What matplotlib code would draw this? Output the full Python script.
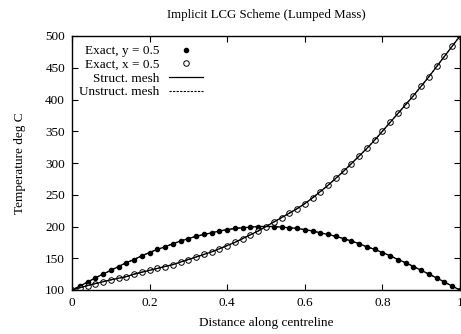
import numpy as np
import matplotlib
matplotlib.use("Agg")
import matplotlib.pyplot as plt

plt.rcParams['font.family'] = ['Liberation Serif', 'DejaVu Serif']
plt.rcParams['font.size'] = 9.5

# distance along centreline (exact solution sampled every 0.02)
dist = [round(0.02 * i, 2) for i in range(51)]

# exact, y = 0.5 (symmetric hump)
half_y = [100, 106, 112.5, 119, 125, 131, 137, 143, 148, 154,
          159, 164, 168, 173, 177, 181, 184.5, 187.5, 190, 193,
          195, 197, 198, 199, 200, 200]
exact_y = half_y + half_y[-2::-1]

# exact, x = 0.5
exact_x = [100, 103.5, 107, 110, 113, 116, 118.5, 121, 125, 128,
           131, 134, 137, 140, 144, 148, 152, 156, 160, 165,
           170, 175, 181, 187, 193, 200, 207, 214, 221, 228,
           236, 245, 255, 265, 276, 287, 299, 311, 323, 336,
           350, 364, 378, 392, 406, 421, 436, 452, 468, 484, 500]

# numerical results (indistinguishable from exact at this scale)
struct_y = exact_y
struct_x = exact_x
unstruct_y = exact_y
unstruct_x = exact_x

fig = plt.figure(figsize=(4.61, 3.34), dpi=100)
ax = fig.add_axes([72/461, 1 - 290/334, 388/461, 254/334])

ax.plot(dist, exact_y, 'o', color='black', ms=3.0, ls='none', zorder=2,
        label='Exact, y = 0.5')
ax.plot(dist, exact_x, 'o', mfc='white', mec='black', mew=0.7, ms=4.0, ls='none',
        zorder=2, label='Exact, x = 0.5')
ax.plot(dist, struct_y, '-', color='black', lw=0.9, zorder=3, label='Struct. mesh')
ax.plot(dist, struct_x, '-', color='black', lw=0.9, zorder=3)
ax.plot(dist, unstruct_y, color='black', lw=0.8, dashes=(2, 1.2), zorder=3,
        label='Unstruct. mesh')
ax.plot(dist, unstruct_x, color='black', lw=0.8, dashes=(2, 1.2), zorder=3)

ax.set_xlim(0, 1)
ax.set_ylim(100, 500)
ax.set_xticks([0, 0.2, 0.4, 0.6, 0.8, 1])
ax.set_xticklabels(['0', '0.2', '0.4', '0.6', '0.8', '1'])
ax.set_yticks(np.arange(100, 501, 50))
ax.tick_params(direction='in', top=True, right=True, length=4, width=0.8, pad=5)
for s in ax.spines.values():
    s.set_linewidth(1.0)

ax.set_title('Implicit LCG Scheme (Lumped Mass)', fontsize=9.3, pad=13)
ax.set_xlabel('Distance along centreline', labelpad=6)
ax.set_ylabel('Temperature deg C', labelpad=14)

ax.legend(loc='upper left', bbox_to_anchor=(-0.005, 1.0), frameon=False,
          markerfirst=False, handlelength=2.6, handletextpad=0.7,
          labelspacing=0.1, borderpad=0.5, borderaxespad=0.2)

fig.savefig('out.png', dpi=100)
